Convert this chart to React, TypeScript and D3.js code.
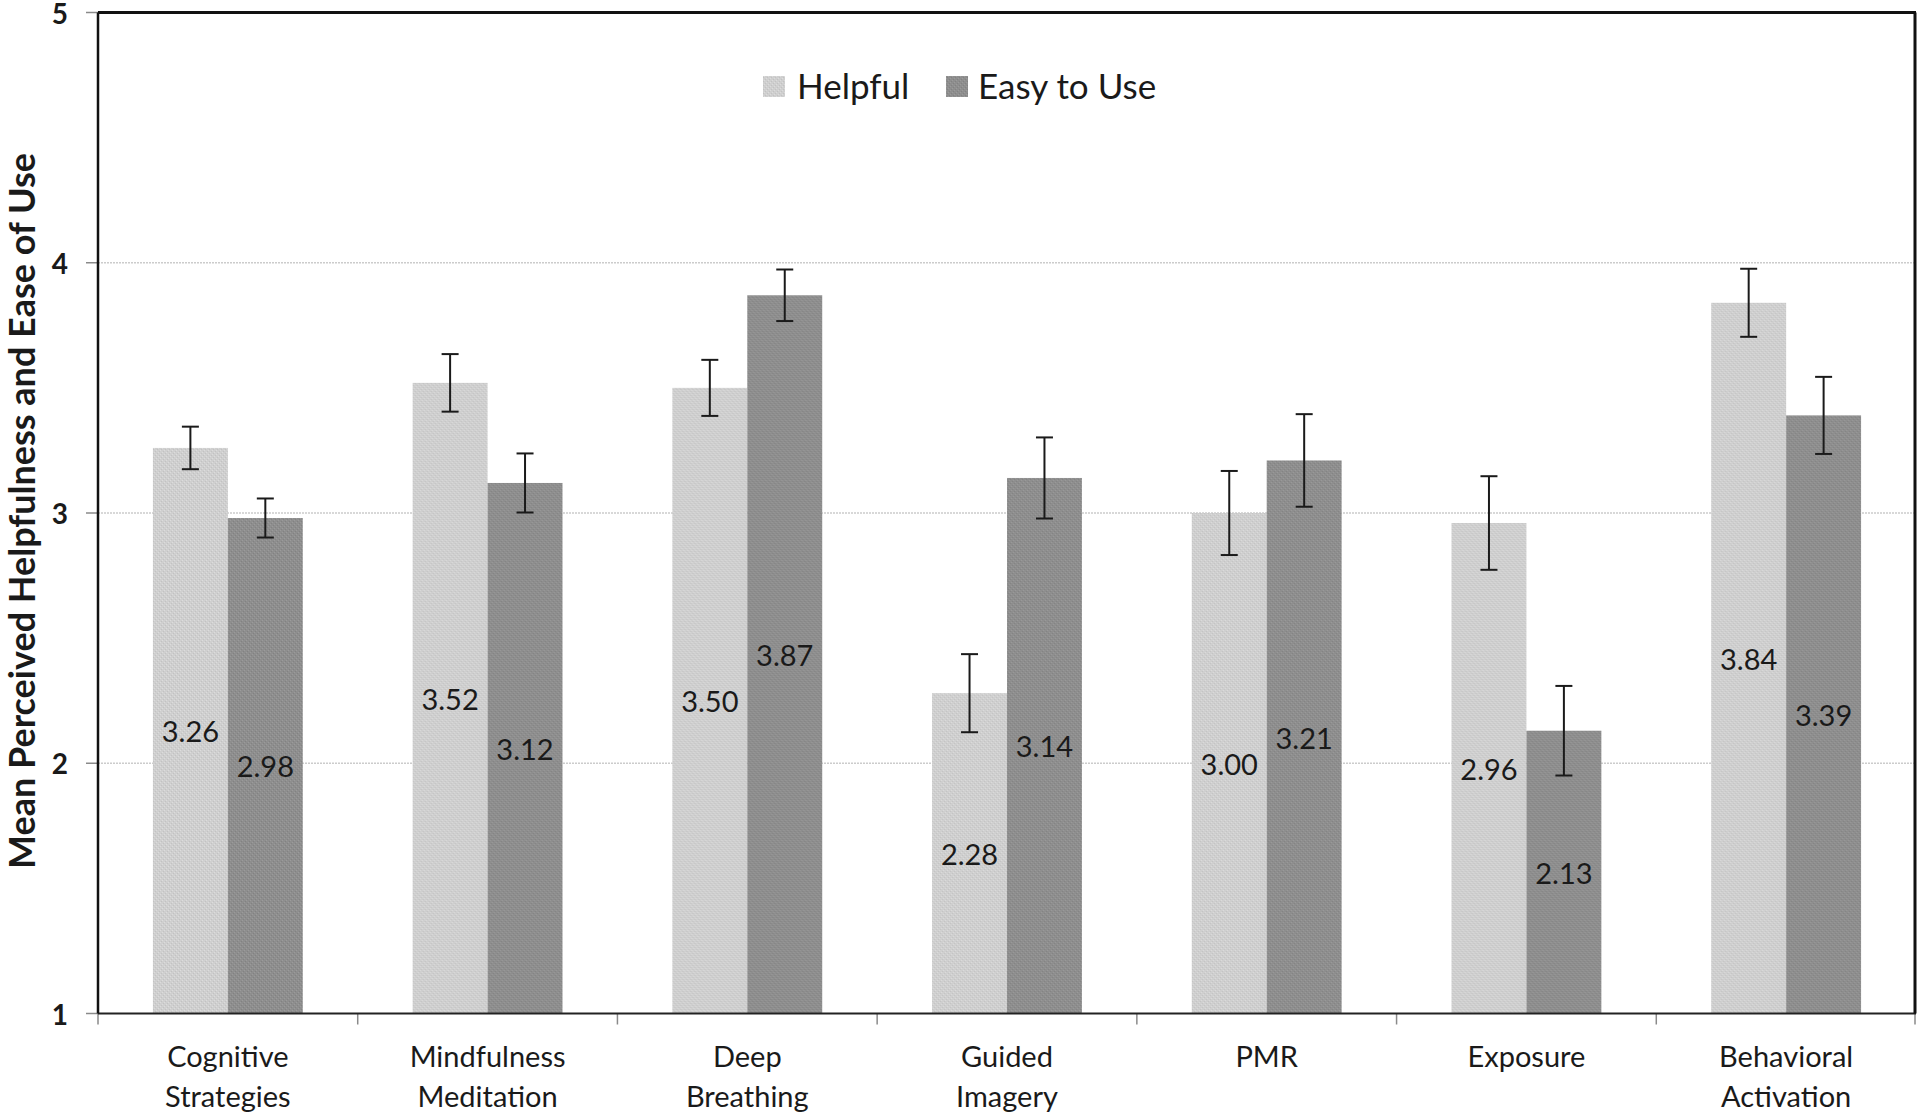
import React from 'react';
import * as d3 from 'd3';

const categories = [
  'Cognitive Strategies',
  'Mindfulness Meditation',
  'Deep Breathing',
  'Guided Imagery',
  'PMR',
  'Exposure',
  'Behavioral Activation',
];
const categoryLines = [
  ['Cognitive', 'Strategies'],
  ['Mindfulness', 'Meditation'],
  ['Deep', 'Breathing'],
  ['Guided', 'Imagery'],
  ['PMR'],
  ['Exposure'],
  ['Behavioral', 'Activation'],
];
const seriesNames = ['Helpful', 'Easy to Use'];
const helpful = [3.26, 3.52, 3.5, 2.28, 3.0, 2.96, 3.84];
const easyToUse = [2.98, 3.12, 3.87, 3.14, 3.21, 2.13, 3.39];
const helpfulErr = [0.085, 0.115, 0.112, 0.156, 0.168, 0.187, 0.136];
const easyErr = [0.078, 0.118, 0.103, 0.162, 0.185, 0.179, 0.154];
const yTicks = [1, 2, 3, 4, 5];

const W = 1920;
const H = 1115;
const plot = { left: 98, right: 1916, top: 12.5, bottom: 1013.5 };
const FONT = 'Lato, "Open Sans", sans-serif';

export default function App() {
  const x0 = d3.scaleBand<string>().domain(categories).range([plot.left, plot.right]).padding(0);
  const x1 = d3
    .scaleBand<string>()
    .domain(seriesNames)
    .range([0, x0.bandwidth()])
    .paddingInner(0)
    .paddingOuter(0.733);
  const y = d3.scaleLinear().domain([1, 5]).range([plot.bottom, plot.top]);

  const rows = categories.map((c, i) => ({
    cat: c,
    lines: categoryLines[i],
    vals: [
      { s: seriesNames[0], v: helpful[i], e: helpfulErr[i] },
      { s: seriesNames[1], v: easyToUse[i], e: easyErr[i] },
    ],
  }));

  const fillFor = (s: string) => (s === seriesNames[0] ? 'url(#texHelpful)' : 'url(#texEasy)');
  const bw = x1.bandwidth();
  const cap = 8.5;

  return (
    <div style={{ position: 'fixed', left: 0, top: 0 }}>
      <svg width={W} height={H} style={{ display: 'block', background: '#fff' }}>
        <defs>
          <pattern id="texHelpful" width={4} height={4} patternUnits="userSpaceOnUse">
            <rect width={4} height={4} fill="#cfcfcf" />
            <rect x={0} y={0} width={1} height={1} fill="#dcdcdc" />
            <rect x={2} y={2} width={1} height={1} fill="#dcdcdc" />
            <rect x={1} y={3} width={1} height={1} fill="#c2c2c2" />
            <rect x={3} y={1} width={1} height={1} fill="#c2c2c2" />
          </pattern>
          <pattern id="texEasy" width={4} height={4} patternUnits="userSpaceOnUse">
            <rect width={4} height={4} fill="#8e8e8e" />
            <rect x={0} y={0} width={1} height={1} fill="#9b9b9b" />
            <rect x={2} y={2} width={1} height={1} fill="#9b9b9b" />
            <rect x={1} y={3} width={1} height={1} fill="#828282" />
            <rect x={3} y={1} width={1} height={1} fill="#828282" />
          </pattern>
        </defs>

        {/* gridlines */}
        {yTicks
          .filter((t) => t > 1 && t < 5)
          .map((t) => (
            <line
              key={'g' + t}
              x1={plot.left}
              x2={plot.right}
              y1={y(t)}
              y2={y(t)}
              stroke="#cccccc"
              strokeWidth={1.5}
              strokeDasharray="2 1"
            />
          ))}

        {/* bars */}
        {rows.map((r) => (
          <g key={r.cat} transform={`translate(${x0(r.cat)},0)`}>
            {r.vals.map((d) => (
              <rect
                key={d.s}
                x={x1(d.s)}
                y={y(d.v)}
                width={bw}
                height={y(1) - y(d.v)}
                fill={fillFor(d.s)}
              />
            ))}
          </g>
        ))}

        {/* error bars */}
        {rows.map((r) => (
          <g key={'e' + r.cat} transform={`translate(${x0(r.cat)},0)`} stroke="#1a1a1a" strokeWidth={2}>
            {r.vals.map((d) => {
              const cx = (x1(d.s) as number) + bw / 2;
              return (
                <g key={d.s}>
                  <line x1={cx} x2={cx} y1={y(d.v + d.e)} y2={y(d.v - d.e)} />
                  <line x1={cx - cap} x2={cx + cap} y1={y(d.v + d.e)} y2={y(d.v + d.e)} />
                  <line x1={cx - cap} x2={cx + cap} y1={y(d.v - d.e)} y2={y(d.v - d.e)} />
                </g>
              );
            })}
          </g>
        ))}

        {/* value labels */}
        {rows.map((r) => (
          <g key={'v' + r.cat} transform={`translate(${x0(r.cat)},0)`}>
            {r.vals.map((d) => (
              <text
                key={d.s}
                x={(x1(d.s) as number) + bw / 2}
                y={y((d.v + 1) / 2)}
                dy="0.4em"
                textAnchor="middle"
                fontFamily={FONT}
                fontSize={29}
                fill="#1a1a1a"
              >
                {d.v.toFixed(2)}
              </text>
            ))}
          </g>
        ))}

        {/* y ticks + labels */}
        {yTicks.map((t) => (
          <g key={'y' + t}>
            <line x1={plot.left - 12} x2={plot.left} y1={y(t)} y2={y(t)} stroke="#8a8a8a" strokeWidth={1.5} />
            <text
              x={68}
              y={y(t) + 11}
              textAnchor="end"
              fontFamily={FONT}
              fontWeight={700}
              fontSize={28}
              fill="#1a1a1a"
            >
              {t}
            </text>
          </g>
        ))}

        {/* x ticks at band edges */}
        {categories.map((c) => (
          <line
            key={'xt' + c}
            x1={x0(c)}
            x2={x0(c)}
            y1={plot.bottom}
            y2={plot.bottom + 11}
            stroke="#8a8a8a"
            strokeWidth={1.5}
          />
        ))}
        <line x1={plot.right - 1} x2={plot.right - 1} y1={plot.bottom} y2={plot.bottom + 11} stroke="#8a8a8a" strokeWidth={1.5} />

        {/* category labels */}
        {rows.map((r) => (
          <text
            key={'c' + r.cat}
            x={(x0(r.cat) as number) + x0.bandwidth() / 2}
            y={1067}
            textAnchor="middle"
            fontFamily={FONT}
            fontSize={29}
            fill="#1a1a1a"
          >
            {r.lines.map((ln, i) => (
              <tspan key={i} x={(x0(r.cat) as number) + x0.bandwidth() / 2} dy={i === 0 ? 0 : 40}>
                {ln}
              </tspan>
            ))}
          </text>
        ))}

        {/* frame */}
        <line x1={plot.left} x2={plot.right} y1={plot.bottom} y2={plot.bottom} stroke="#222" strokeWidth={2} />
        <line x1={plot.left} x2={plot.left} y1={plot.top} y2={plot.bottom} stroke="#111" strokeWidth={2.5} />
        <line x1={plot.left} x2={plot.right} y1={plot.top} y2={plot.top} stroke="#111" strokeWidth={3} />
        <line x1={plot.right - 1} x2={plot.right - 1} y1={plot.top} y2={plot.bottom} stroke="#111" strokeWidth={3} />

        {/* y axis title */}
        <text
          transform={`translate(35,${(plot.top + plot.bottom) / 2 - 2}) rotate(-90)`}
          textAnchor="middle"
          fontFamily={FONT}
          fontWeight={700}
          fontSize={36}
          fill="#1a1a1a"
        >
          Mean Perceived Helpfulness and Ease of Use
        </text>

        {/* legend */}
        <g fontFamily={FONT} fontSize={35} fill="#1a1a1a">
          <rect x={763} y={76} width={22} height={21} fill="url(#texHelpful)" />
          <text x={797} y={99}>{seriesNames[0]}</text>
          <rect x={946} y={76} width={22} height={21} fill="url(#texEasy)" />
          <text x={978} y={99}>{seriesNames[1]}</text>
        </g>
      </svg>
    </div>
  );
}
